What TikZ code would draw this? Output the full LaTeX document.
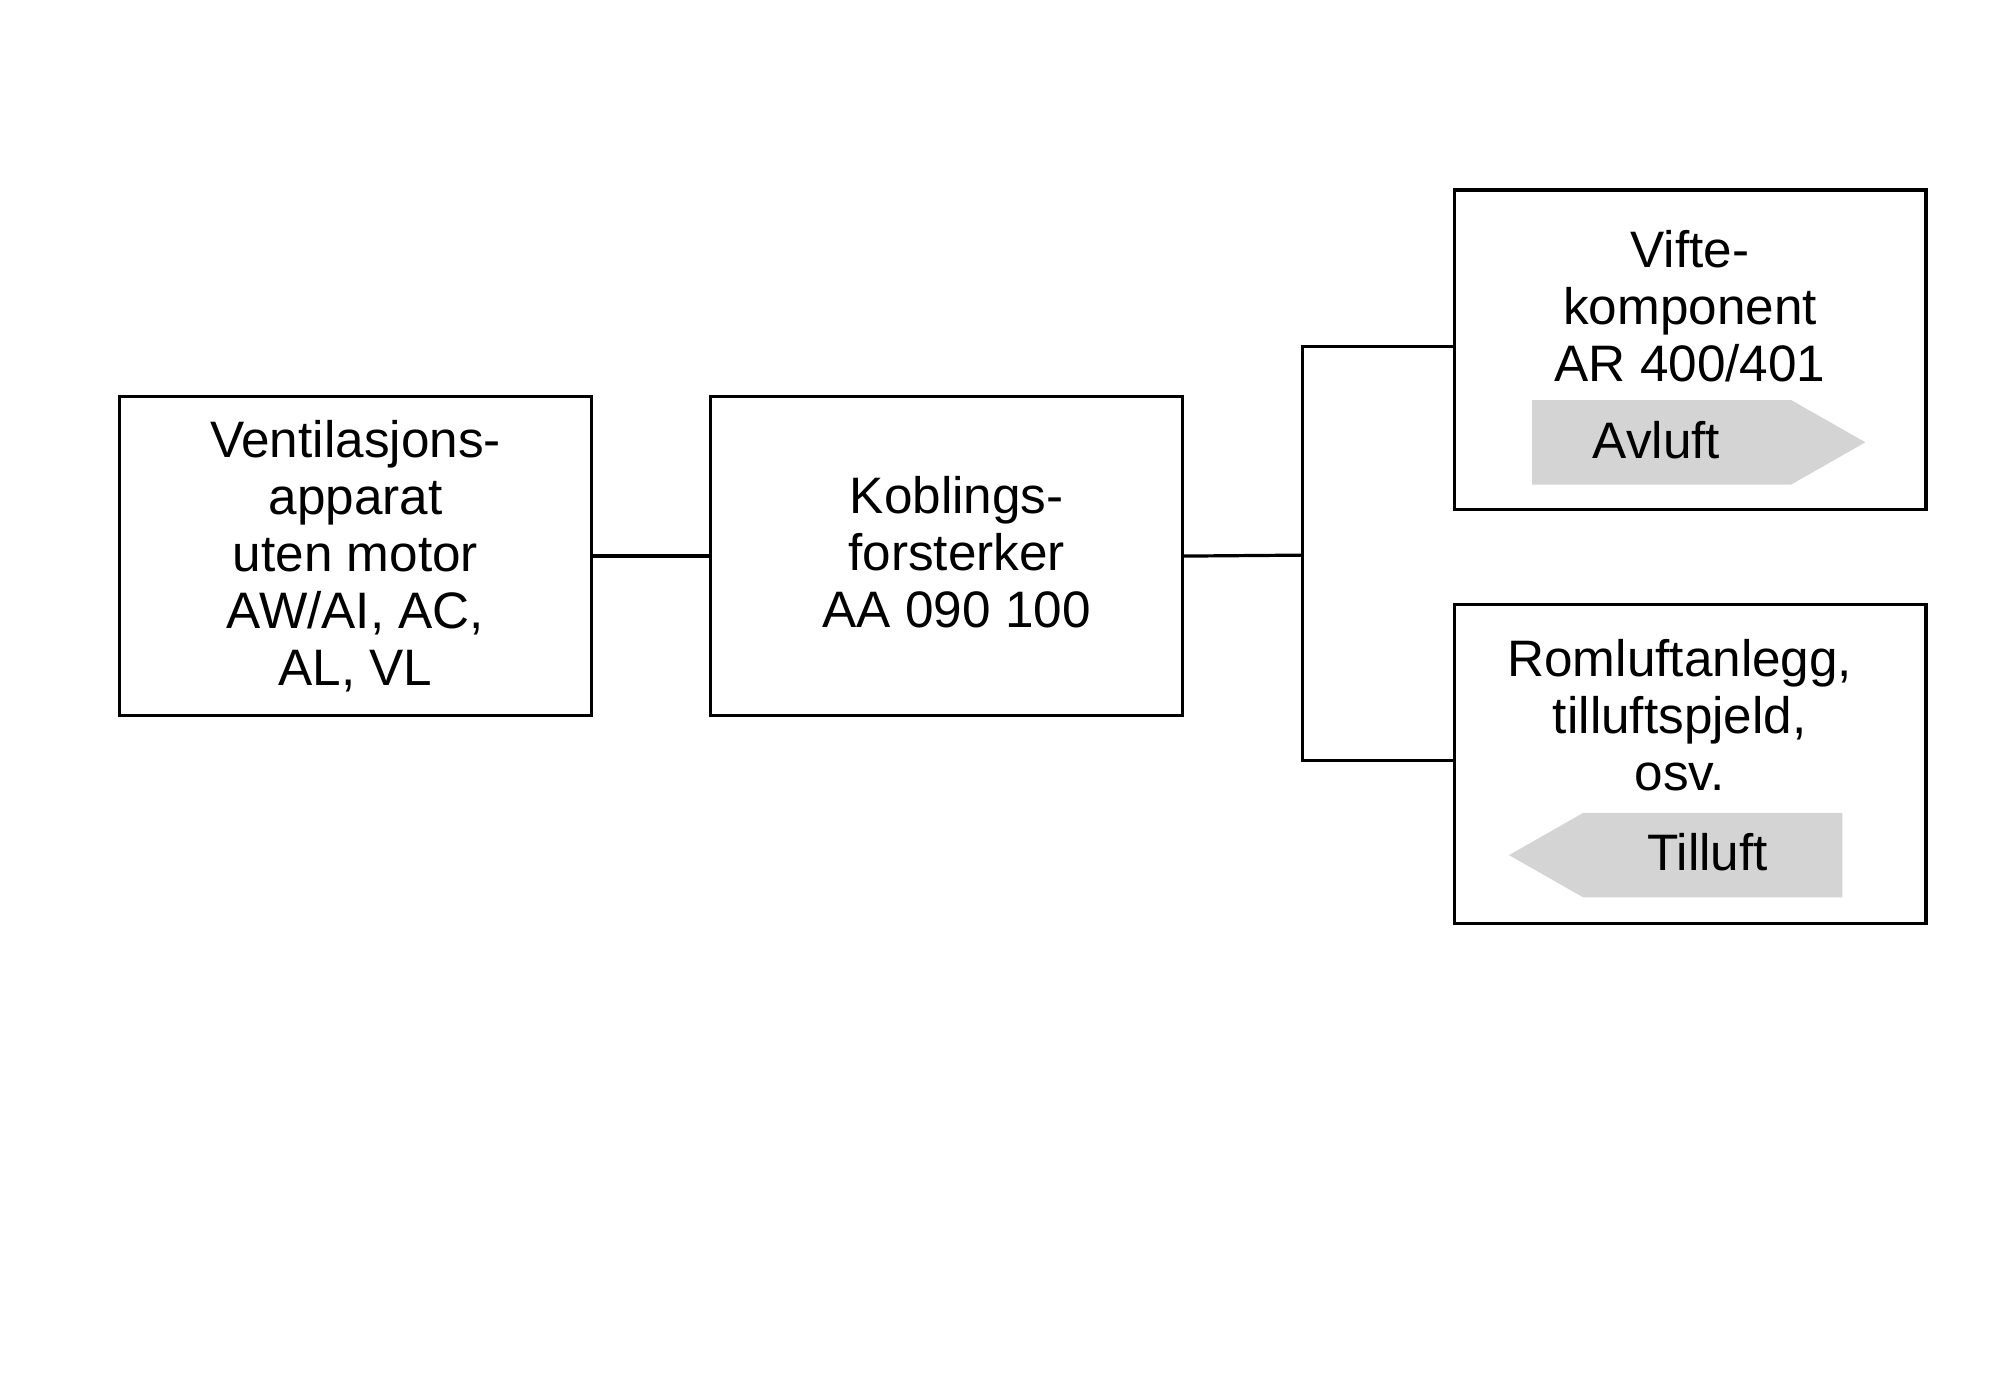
\documentclass[tikz,border=0pt]{standalone}
\usepackage{fontspec}
\setmainfont{Liberation Sans}
\usetikzlibrary{positioning}
\usetikzlibrary{shapes.arrows}
\usetikzlibrary{calc}

\begin{document}
\begin{tikzpicture}[x=1pt, y=-1pt,
  unit/.style={draw, line width=2.5pt, minimum width=368pt, minimum height=249pt,
    inner sep=0pt, anchor=north west},
  txt/.style={align=center, font=\fontsize{40}{44.5}\selectfont},
  wire/.style={line width=2.5pt},
  flow/.style={fill=black!17, draw=none}]

\useasboundingbox (0,0) rectangle (1560,1083);

\node [unit] (vent) at (92, 308) {};
\node [txt] (ventT) at ($(vent.center) + (0, 0)$) {Ventilasjons-\\apparat\\uten motor\\AW/AI, AC,\\AL, VL};

\node [unit] (kobl) at (553, 308) {};
\node [txt] (koblT) at ($(kobl.center) + (8, -3)$) {Koblings-\\forsterker\\AA 090 100};

\node [unit] (vifte) at (1133, 147) {};
\node [txt] (vifteT) at ($(vifte.north) + (0, 92)$) {Vifte-\\komponent\\AR 400/401};

\node [unit] (rom) at (1133, 470) {};
\node [txt] (romT) at ($(rom.north) + (-8, 88)$) {Romluftanlegg,\\tilluftspjeld,\\osv.};

% air flow arrows
\fill [flow] (1195, 312) -- (1397, 312) -- (1455, 345) -- (1397, 378) -- (1195, 378) -- cycle;
\node [txt] (avluft) at (1292, 343) {Avluft};
\fill [flow] (1437, 634) -- (1235, 634) -- (1177, 667) -- (1235, 700) -- (1437, 700) -- cycle;
\node [txt] (tilluft) at (1332, 665) {Tilluft};

\coordinate (split) at (1016, 433);

\draw [wire] (vent.east) -- (kobl.west);
\draw [wire] (kobl.east) -- (split);
\draw [wire] (vifte.west |- 0, 270) -| (split |- 0, 270) -- (split |- 0, 593) -- (rom.west |- 0, 593);

\end{tikzpicture}
\end{document}
